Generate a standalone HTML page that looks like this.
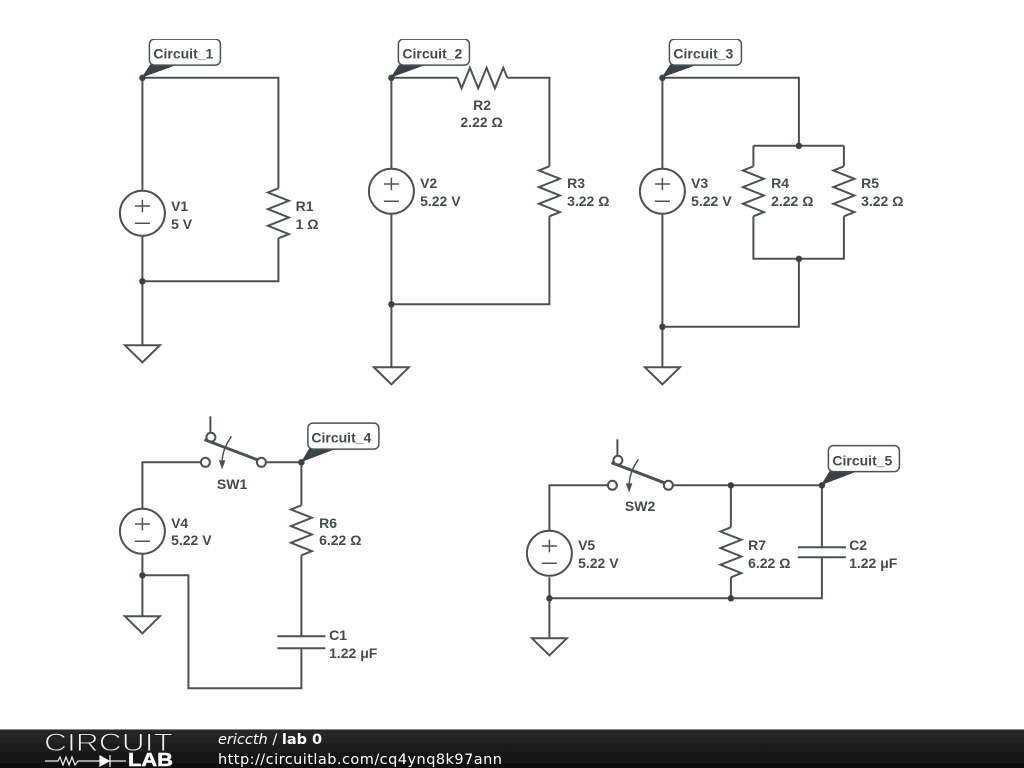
<!DOCTYPE html>
<html><head><meta charset="utf-8"><style>
html,body{margin:0;padding:0;background:#fff;width:1024px;height:768px;overflow:hidden}
svg{display:block}
.w{fill:none;stroke:#4a5357;stroke-width:2}
.t{font:bold 14px "Liberation Sans",sans-serif;fill:#434c50}
.c{font:bold 14px "Liberation Sans",sans-serif;fill:#434c50}
</style></head><body>
<svg width="1024" height="768" viewBox="0 0 1024 768" xmlns="http://www.w3.org/2000/svg">
<defs>
<filter id="b" x="0" y="0" width="100%" height="100%"><feGaussianBlur stdDeviation="0.35"/></filter>
<linearGradient id="g" x1="0" y1="0" x2="0" y2="1"><stop offset="0" stop-color="#2a2a2a"/><stop offset="1" stop-color="#0e0e0e"/></linearGradient>
<g id="v"><circle r="22.5" cx="0" cy="0" fill="#fff" stroke="#4a5357" stroke-width="2"/><path d="M-7.500 -7.300H7.500M0 -13.500V-1M-7.500 10H7.500" fill="none" stroke="#4a5357" stroke-width="1.500"/></g>
<path id="rv" d="M0 -25L-10.500 -20.800L10.500 -12.500L-10.500 -4.200L10.500 4.200L-10.500 12.500L10.500 20.800L0 25" fill="none" stroke="#4a5357" stroke-width="2"/>
<path id="gnd" d="M-17.500 0H17.500L0 17Z" fill="#fff" stroke="#4a5357" stroke-width="2"/>
<circle id="d" r="3.200" fill="#3b4346"/>
<g id="sw"><path d="M5 -30V-46" fill="none" stroke="#4a5357" stroke-width="2"/><path d="M-1 -22.700L52 -2.500" fill="none" stroke="#4a5357" stroke-width="3"/><circle cx="0" cy="0" r="4.500" fill="#fff" stroke="#4a5357" stroke-width="2"/><circle cx="56" cy="0" r="4.500" fill="#fff" stroke="#4a5357" stroke-width="2"/><circle cx="5.500" cy="-25" r="4.500" fill="none" stroke="#4a5357" stroke-width="2"/><path d="M26 -26Q17.500 -14 16.700 -2" fill="none" stroke="#4a5357" stroke-width="1.500"/><path d="M13.500 -2H20L16.700 7.300Z" fill="#4a5357"/></g>
</defs>

<g filter="url(#b)">
<g transform="translate(0.4,0.3)">
<!-- Circuit 1 -->
<path class="w" d="M142 77.500H278V188M278 238V281H142M142 77.500V190M142 236V345"/>
<use href="#v" x="142" y="213"/><use href="#rv" x="278" y="213"/><use href="#gnd" x="142" y="345"/><use href="#d" x="142" y="281"/>
<text class="t" x="170.700" y="210.600">V1</text><text class="t" x="170.700" y="228.600">5 V</text>
<text class="t" x="295.200" y="210.600">R1</text><text class="t" x="295.200" y="228.600">1 Ω</text>

<!-- Circuit 2 -->
<path class="w" d="M391 77.500H457M507 77.500H549V166M549 216V304H391M391 77.500V168M391 214V367"/>
<path d="M457 77.500L461.200 88L469.500 67.500L477.800 88L486.200 67.500L494.500 88L502.800 67.500L507 77.500" fill="none" stroke="#4a5357" stroke-width="2"/>
<use href="#v" x="391" y="191"/><use href="#rv" x="549" y="191"/><use href="#gnd" x="391" y="367"/><use href="#d" x="391" y="304"/>
<text class="t" x="481.700" y="109.700" text-anchor="middle">R2</text><text class="t" x="481.200" y="126.700" text-anchor="middle">2.22 Ω</text>
<text class="t" x="419.700" y="187.600">V2</text><text class="t" x="419.700" y="205.600">5.22 V</text>
<text class="t" x="566.700" y="187.600">R3</text><text class="t" x="566.700" y="205.600">3.22 Ω</text>

<!-- Circuit 3 -->
<path class="w" d="M662 77.500H798.500V145.500M753 145.500H843.500M753 145.500V166M843.500 145.500V166M753 216V258.500H843.500V216M798.500 258.500V326.500H662M662 77.500V168M662 214V367"/>
<use href="#v" x="662" y="191"/><use href="#rv" x="753" y="191"/><use href="#rv" x="843.500" y="191"/><use href="#gnd" x="662" y="367"/>
<use href="#d" x="798.500" y="145.500"/><use href="#d" x="798.500" y="258.500"/><use href="#d" x="662" y="326.500"/>
<text class="t" x="690.700" y="187.600">V3</text><text class="t" x="690.700" y="205.600">5.22 V</text>
<text class="t" x="770.700" y="187.600">R4</text><text class="t" x="770.700" y="205.600">2.22 Ω</text>
<text class="t" x="860.700" y="187.600">R5</text><text class="t" x="860.700" y="205.600">3.22 Ω</text>

<!-- Circuit 4 -->
<path class="w" d="M142 508V462H200M266 462H301V505M301 555V636M301 648V688H188V575H142M142 554V616"/>
<path class="w" d="M277 636H325M277 648H325"/>
<use href="#v" x="142" y="531"/><use href="#rv" x="301" y="530"/><use href="#gnd" x="142" y="616"/>
<use href="#sw" x="205" y="462"/><use href="#d" x="301" y="462"/><use href="#d" x="142" y="575"/>
<text class="t" x="231.700" y="488.600" text-anchor="middle">SW1</text>
<text class="t" x="170.700" y="527.600">V4</text><text class="t" x="170.700" y="544.600">5.22 V</text>
<text class="t" x="318.700" y="527.600">R6</text><text class="t" x="318.700" y="544.600">6.22 Ω</text>
<text class="t" x="328.700" y="639.600">C1</text><text class="t" x="328.700" y="657.600">1.22 μF</text>

<!-- Circuit 5 -->
<path class="w" d="M549 531V485H607M673 485H821.500V547M821.500 557V598H549M730.500 485V527M730.500 577V598M549 577V638"/>
<path class="w" d="M797.500 547H845.500M797.500 557H845.500"/>
<use href="#v" x="549" y="553"/><use href="#rv" x="730.500" y="552"/><use href="#gnd" x="549" y="638"/>
<use href="#sw" x="612" y="485"/><use href="#d" x="730.500" y="485"/><use href="#d" x="821.500" y="485"/><use href="#d" x="549" y="598"/><use href="#d" x="730.500" y="598"/>
<text class="t" x="639.700" y="510.600" text-anchor="middle">SW2</text>
<text class="t" x="577.700" y="549.600">V5</text><text class="t" x="577.700" y="567.600">5.22 V</text>
<text class="t" x="747.700" y="549.600">R7</text><text class="t" x="747.700" y="567.600">6.22 Ω</text>
<text class="t" x="848.700" y="549.600">C2</text><text class="t" x="848.700" y="567.600">1.22 μF</text>

<!-- Labels -->
<path d="M141 77.500L150 64H178Z" fill="#3b4346"/><use href="#d" x="142" y="77.500"/>
<rect x="149" y="38.800" width="71" height="26" rx="5" fill="#fff" stroke="#4a5357" stroke-width="1.500"/>
<text class="c" x="153" y="58.300">Circuit_1</text>

<path d="M390 77.500L399 64H427Z" fill="#3b4346"/><use href="#d" x="391" y="77.500"/>
<rect x="398" y="38.800" width="71" height="26" rx="5" fill="#fff" stroke="#4a5357" stroke-width="1.500"/>
<text class="c" x="402" y="58.300">Circuit_2</text>

<path d="M661 77.500L670 64H698Z" fill="#3b4346"/><use href="#d" x="662" y="77.500"/>
<rect x="669" y="38.800" width="72" height="26" rx="5" fill="#fff" stroke="#4a5357" stroke-width="1.500"/>
<text class="c" x="673" y="58.300">Circuit_3</text>

<path d="M300.500 462L309 448H337Z" fill="#3b4346"/>
<rect x="307.500" y="422.800" width="71" height="26" rx="5" fill="#fff" stroke="#4a5357" stroke-width="1.500"/>
<text class="c" x="311" y="442.300">Circuit_4</text>

<path d="M820.500 485L829 471H857Z" fill="#3b4346"/>
<rect x="828" y="445.300" width="71" height="26" rx="5" fill="#fff" stroke="#4a5357" stroke-width="1.500"/>
<text class="c" x="832" y="465.300">Circuit_5</text>
</g>

<!-- Footer -->
<rect x="0" y="729" width="1024" height="39" fill="url(#g)"/>
<rect x="0" y="729" width="1024" height="1" fill="#888"/>
<text x="44" y="751" font-family="'Liberation Sans',sans-serif" font-size="25" fill="#eee" stroke="#1e1e1e" stroke-width="0.9" textLength="129" lengthAdjust="spacingAndGlyphs">CIRCUIT</text>
<path d="M45 761H58L60 757L63 765L66 757L69 765L72 757L75 765L78 761H100M110 761H126" fill="none" stroke="#eee" stroke-width="1.200"/>
<path d="M100 756V766L109 761ZM110 755V767" fill="#fff" stroke="#fff" stroke-width="1.200"/>
<text x="128" y="766" font-family="'Liberation Sans',sans-serif" font-weight="bold" font-size="18" fill="#fff" stroke="#fff" stroke-width="0.5" textLength="45" lengthAdjust="spacingAndGlyphs">LAB</text>
<text x="218" y="744" font-family="'DejaVu Sans',sans-serif" font-size="14.500" fill="#fff"><tspan font-style="italic">ericcth</tspan> / <tspan font-weight="bold">lab 0</tspan></text>
<text x="218" y="764" font-family="'DejaVu Sans',sans-serif" font-size="14.500" fill="#fff" textLength="284">http://circuitlab.com/cq4ynq8k97ann</text>
</g>
</svg>
</body></html>
